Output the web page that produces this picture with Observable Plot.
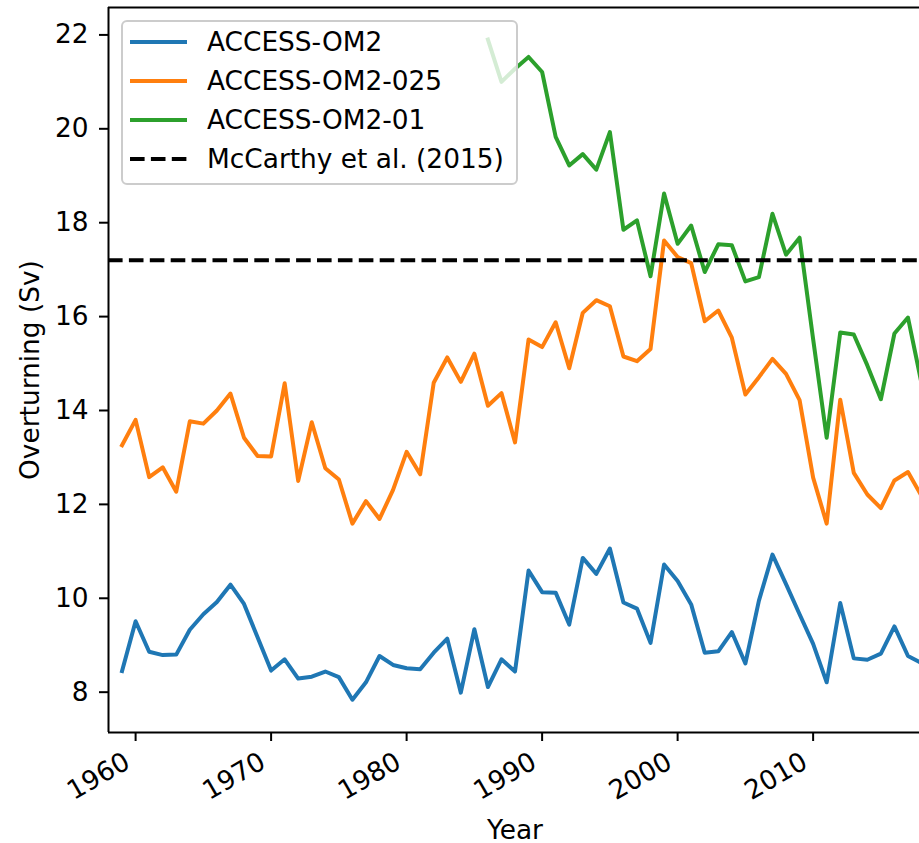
<!DOCTYPE html>
<html>
<head>
<meta charset="utf-8">
<script src="https://cdn.jsdelivr.net/npm/d3@7"></script>
<script src="https://cdn.jsdelivr.net/npm/@observablehq/plot@0.6"></script>
<style>
  html, body { margin: 0; padding: 0; background: #fff; overflow: hidden; }
  #wrap { position: relative; width: 919px; height: 843px; overflow: hidden; font-family: "DejaVu Sans", sans-serif; }
  #legend { position: absolute; box-sizing: border-box; background: rgba(255,255,255,0.8); border: 2px solid #cccccc; border-radius: 6px; }
  .lrow { position: absolute; height: 30px; line-height: 30px; font-size: 26.4px; color: #000; white-space: nowrap; }
  .lsample { position: absolute; }
</style>
</head>
<body>
<div id="wrap">
  <div id="chart"></div>
  <div id="legend"></div>
</div>
<script>
// ---- data ----
const years = [1959,1960,1961,1962,1963,1964,1965,1966,1967,1968,
               1969,1970,1971,1972,1973,1974,1975,1976,1977,1978,
               1979,1980,1981,1982,1983,1984,1985,1986,1987,1988,
               1989,1990,1991,1992,1993,1994,1995,1996,1997,1998,
               1999,2000,2001,2002,2003,2004,2005,2006,2007,2008,
               2009,2010,2011,2012,2013,2014,2015,2016,2017,2018];
const om2 = [8.45, 9.51, 8.86, 8.79, 8.80, 9.33, 9.66, 9.92, 10.29, 9.88,
             9.17, 8.46, 8.70, 8.29, 8.33, 8.44, 8.32, 7.84, 8.21, 8.77,
             8.58, 8.51, 8.49, 8.84, 9.14, 7.99, 9.34, 8.11, 8.70, 8.44,
             10.59, 10.13, 10.12, 9.44, 10.86, 10.52, 11.06, 9.91, 9.78, 9.05,
             10.72, 10.37, 9.87, 8.84, 8.87, 9.28, 8.61, 9.95, 10.93, 10.30,
             9.66, 9.03, 8.21, 9.90, 8.72, 8.69, 8.82, 9.40, 8.77, 8.62];
const om2_025 = [13.26, 13.80, 12.58, 12.79, 12.27, 13.77, 13.72, 14.00, 14.36, 13.42,
                 13.03, 13.02, 14.58, 12.50, 13.75, 12.77, 12.53, 11.59, 12.07, 11.69,
                 12.31, 13.12, 12.64, 14.59, 15.13, 14.61, 15.21, 14.10, 14.37, 13.32,
                 15.51, 15.35, 15.88, 14.90, 16.08, 16.35, 16.22, 15.15, 15.05, 15.31,
                 17.62, 17.27, 17.14, 15.90, 16.13, 15.55, 14.34, 14.71, 15.10, 14.78,
                 14.22, 12.57, 11.59, 14.23, 12.67, 12.21, 11.92, 12.51, 12.69, 12.18];
const years01 = [1986,1987,1988,1989,1990,1991,1992,1993,1994,1995,
                 1996,1997,1998,1999,2000,2001,2002,2003,2004,2005,
                 2006,2007,2008,2009,2010,2011,2012,2013,2014,2015,
                 2016,2017,2018];
const om2_01 = [21.90, 21.00, 21.28, 21.53, 21.21, 19.83, 19.22, 19.46, 19.13, 19.93,
                17.85, 18.05, 16.86, 18.62, 17.55, 17.94, 16.95, 17.54, 17.52, 16.75,
                16.84, 18.19, 17.32, 17.68, 15.52, 13.42, 15.66, 15.62, 14.96, 14.24,
                15.64, 15.98, 14.58];
const mccarthy = 17.2;
const seriesNames = ["ACCESS-OM2", "ACCESS-OM2-025", "ACCESS-OM2-01", "McCarthy et al. (2015)"];
const seriesColors = ["#1f77b4", "#ff7f0e", "#2ca02c", "#000000"];
const xTicks = [1960, 1970, 1980, 1990, 2000, 2010];
const yTicks = [8, 10, 12, 14, 16, 18, 20, 22];
const xDomain = [1958, 2017.85];
const yDomain = [7.141, 22.584];

// ---- tables ----
const tOM2 = years.map((y, i) => ({year: y, v: om2[i]}));
const tOM025 = years.map((y, i) => ({year: y, v: om2_025[i]}));
const tOM01 = years01.map((y, i) => ({year: y, v: om2_01[i]}));

const FS = 26.4;
const lineOpts = {x: "year", y: "v", strokeWidth: 4, strokeLinejoin: "round", strokeLinecap: "square", clip: true};

const chart = Plot.plot({
  width: 919,
  height: 843,
  marginLeft: 108,
  marginRight: 0,
  marginTop: 7,
  marginBottom: 111,
  style: {fontFamily: "DejaVu Sans", fontSize: FS + "px", background: "white", color: "black", overflow: "hidden"},
  x: {domain: xDomain},
  y: {domain: yDomain},
  marks: [
    Plot.line(tOM2, {...lineOpts, stroke: seriesColors[0]}),
    Plot.line(tOM025, {...lineOpts, stroke: seriesColors[1]}),
    Plot.line(tOM01, {...lineOpts, stroke: seriesColors[2]}),
    Plot.ruleY([mccarthy], {stroke: seriesColors[3], strokeWidth: 4, strokeDasharray: "14.6,6.3"}),
    Plot.ruleX([xDomain[0]], {stroke: "black", strokeWidth: 2}),
    Plot.ruleY([yDomain[0]], {stroke: "black", strokeWidth: 2}),
    Plot.ruleY([yDomain[1]], {stroke: "black", strokeWidth: 2}),
    Plot.axisY({ticks: yTicks, tickSize: 9, tickPadding: 11, fontSize: FS, label: null, strokeWidth: 2, fill: "black"}),
    Plot.axisX({ticks: xTicks, tickSize: 9, tickFormat: () => "", label: null, strokeWidth: 2}),
    Plot.text(xTicks, {x: d => d, frameAnchor: "bottom", text: d => String(d), rotate: -30,
                       textAnchor: "end", lineAnchor: "middle", dx: -8, dy: 27, fontSize: FS, fill: "black"}),
    Plot.text(["Overturning (Sv)"], {frameAnchor: "left", text: d => d, rotate: -90, dx: -78,
                       textAnchor: "middle", lineAnchor: "middle", fontSize: FS, fill: "black"}),
    Plot.text(["Year"], {frameAnchor: "bottom", text: d => d, dy: 106, dx: 1,
                       textAnchor: "middle", lineAnchor: "bottom", fontSize: FS, fill: "black"})
  ]
});
document.getElementById("chart").appendChild(chart);

// ---- legend (inside the axes, semi-transparent like matplotlib) ----
const legend = document.getElementById("legend");
legend.style.left = "121px";
legend.style.top = "20px";
legend.style.width = "397px";
legend.style.height = "165px";
const rowCenters = [22.3, 61, 100, 139];
seriesNames.forEach((name, i) => {
  const svgNS = "http://www.w3.org/2000/svg";
  const s = document.createElementNS(svgNS, "svg");
  s.setAttribute("width", 60);
  s.setAttribute("height", 10);
  s.setAttribute("class", "lsample");
  s.style.left = (9 - 2) + "px";
  s.style.top = (rowCenters[i] - 5 - 2) + "px";
  const ln = document.createElementNS(svgNS, "line");
  ln.setAttribute("x1", 0); ln.setAttribute("x2", 57);
  ln.setAttribute("y1", 5); ln.setAttribute("y2", 5);
  ln.setAttribute("stroke", seriesColors[i]);
  ln.setAttribute("stroke-width", 4);
  if (i === 3) ln.setAttribute("stroke-dasharray", "14.6,6.3");
  s.appendChild(ln);
  legend.appendChild(s);
  const t = document.createElement("div");
  t.className = "lrow";
  t.textContent = name;
  t.style.left = (86 - 2) + "px";
  t.style.top = (rowCenters[i] - 15 - 2) + "px";
  legend.appendChild(t);
});
</script>
</body>
</html>
